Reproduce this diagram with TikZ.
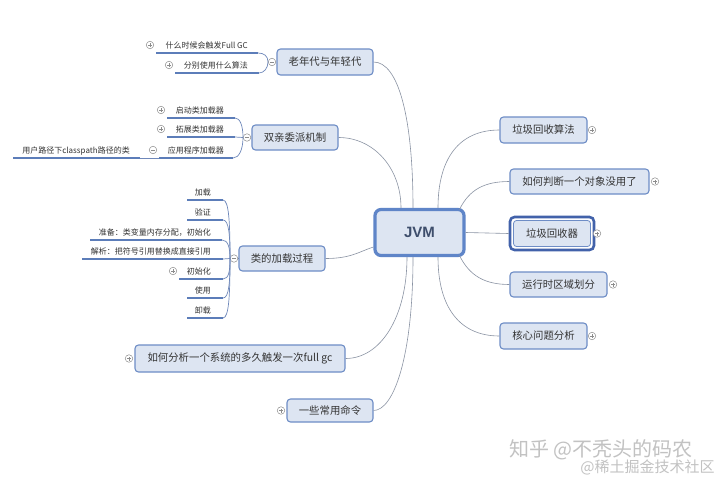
\documentclass[tikz,border=0pt]{standalone}
\usepackage{fontspec}
\setmainfont{Noto Sans CJK SC}
\newfontfamily\jvmfont{Liberation Sans}
\definecolor{boxfill}{HTML}{DDE5F2}
\definecolor{boxline}{HTML}{6E8DC6}
\definecolor{jvmline}{HTML}{5F85C8}
\definecolor{selline}{HTML}{4262AA}
\definecolor{connc}{HTML}{8A93A3}
\definecolor{ulinec}{HTML}{5C7DB9}
\definecolor{brkc}{HTML}{6F88BA}
\definecolor{txtc}{HTML}{333333}
\definecolor{jvmtxt}{HTML}{3E4E6C}
\definecolor{markc}{HTML}{8C8C8C}
\definecolor{wmc}{HTML}{C2C2C2}
\newcommand{\kid}[6]{%
  \node[kidtxt, anchor=base east] (#1) at (#2,#5-4.5) {#6};
  \coordinate (#1l) at (#3,#5);
  \coordinate (#1r) at (#4,#5);
  \draw[uline] (#1l) -- (#1r);}
\begin{document}
\begin{tikzpicture}[x=1pt,y=-1pt,
  branch/.style={draw=boxline, line width=1.1pt, fill=boxfill, rounded corners=3.5pt,
    text=txtc, font=\fontsize{10.4}{12}\selectfont, inner sep=0pt, minimum height=25},
  jvmbox/.style={draw=jvmline, line width=3.2pt, fill=boxfill, rounded corners=6pt,
    text=jvmtxt, font=\jvmfont\bfseries\fontsize{15}{18}\selectfont, inner sep=0pt},
  selbox/.style={draw=selline, line width=2.6pt, fill=white, rounded corners=4.5pt, inner sep=0pt},
  kidtxt/.style={text=txtc, font=\fontsize{8}{10}\selectfont, inner sep=0pt},
  uline/.style={draw=ulinec, line width=1.7pt},
  brk/.style={draw=brkc, line width=0.7pt},
  conn/.style={draw=connc, line width=0.6pt},
  tog/.style={circle, draw=markc, line width=0.5pt, fill=white, minimum size=7.5, inner sep=0pt},
  plusm/.style={tog, path picture={\draw[markc, line width=0.5pt]
      ([xshift=-2pt]path picture bounding box.center) -- ([xshift=2pt]path picture bounding box.center)
      ([yshift=-2pt]path picture bounding box.center) -- ([yshift=2pt]path picture bounding box.center);}},
  minusm/.style={tog, path picture={\draw[markc, line width=0.5pt]
      ([xshift=-2pt]path picture bounding box.center) -- ([xshift=2pt]path picture bounding box.center);}},
  wm/.style={text=wmc, inner sep=0pt}
]
\useasboundingbox[fill=white] (0,0) rectangle (720,479);

% ---------- central node ----------
\node[jvmbox, minimum width=89, minimum height=46] (jvm) at (419.5,232.5) {JVM};

% ---------- left branches ----------
\node[branch, minimum width=96, minimum height=26] (old) at (325,62) {老年代与年轻代};
\node[branch, minimum width=86] (par) at (295,137.5) {双亲委派机制};
\node[branch, minimum width=86] (load) at (282,258.5) {类的加载过程};
\node[branch, minimum width=210, minimum height=27] (fgc) at (240,358.5) {如何分析一个系统的多久触发一次full gc};
\node[branch, minimum width=86, minimum height=23] (cmd) at (330,410.5) {一些常用命令};

% ---------- right branches ----------
\node[branch, minimum width=87, minimum height=26] (alg) at (543.5,130) {垃圾回收算法};
\node[branch, minimum width=139] (dead) at (579.5,181.5) {如何判断一个对象没用了};
\node[selbox, minimum width=84, minimum height=33] (gco) at (552,233.5) {};
\node[branch, line width=0.8pt, rounded corners=3pt, minimum width=77, minimum height=26] (gc) at (552,233.5) {垃圾回收器};
\node[branch, minimum width=97] (rt) at (558.5,284.5) {运行时区域划分};
\node[branch, minimum width=87, minimum height=26] (core) at (543.5,336) {核心问题分析};

% ---------- main connectors ----------
\draw[conn] (old.east) .. controls +(25,0) and +(0,-90) .. ([xshift=-6.5pt]jvm.north);
\draw[conn] (par.east) .. controls +(35,0) and +(0,-40) .. ([xshift=-18.5pt]jvm.north);
\draw[conn] (load.east) .. controls +(25,0) and +(-15,5) .. ([yshift=-14.5pt]jvm.west);
\draw[conn] (fgc.east) .. controls +(35,0) and +(0,60) .. ([xshift=-12.5pt]jvm.south);
\draw[conn] (cmd.east) .. controls +(20,0) and +(0,100) .. ([xshift=-6.5pt]jvm.south);
\draw[conn] ([xshift=18.5pt]jvm.north) .. controls +(0,-50) and +(-40,0) .. (alg.west);
\draw[conn] ([xshift=40pt,yshift=-1.5pt]jvm.north) .. controls +(10,-20) and +(-25,0) .. (dead.west);
\draw[conn] (jvm.east) -- (gco.west);
\draw[conn] ([xshift=40pt,yshift=1.5pt]jvm.south) .. controls +(10,20) and +(-25,0) .. (rt.west);
\draw[conn] ([xshift=18.5pt]jvm.south) .. controls +(0,50) and +(-40,0) .. (core.west);

% ---------- toggles of branches ----------
\node[minusm] (toldm) at (272,62) {};
\node[minusm] (tparm) at (247,137.5) {};
\node[minusm] (tloadm) at (234,258.5) {};
\draw[brk] (load.west) -- (tloadm.east);
\node[plusm] (tfgc) at (129,358.5) {};
\node[plusm] (tcmd) at (281,410.5) {};
\node[plusm] (talg) at (592,130) {};
\node[plusm] (tdead) at (655,181.5) {};
\node[plusm] (tgc) at (597,233.5) {};
\node[plusm] (trt) at (613,284.5) {};
\node[plusm] (tcore) at (592,336) {};

% ---------- children of 老年代与年轻代 ----------
\kid{o1}{248}{156}{258}{53}{什么时候会触发Full GC}
\kid{o2}{248}{175}{259}{73}{分别使用什么算法}
\node[plusm] (to1) at (150,45) {};
\node[plusm] (to2) at (169,65) {};
\draw[brk] (o1r) .. controls +(6,0) and +(0,-6) .. (toldm.west);
\draw[brk] (o2r) .. controls +(5,0) and +(0,6) .. (toldm.west);

% ---------- children of 双亲委派机制 ----------
\kid{p1}{224}{167}{235}{118}{启动类加载器}
\kid{p2}{224}{167}{235}{137}{拓展类加载器}
\kid{p3}{224}{159}{233}{158}{应用程序加载器}
\node[plusm] (tp1) at (161,110) {};
\node[plusm] (tp2) at (161,129) {};
\node[minusm] (tp3) at (153,150) {};
\draw[brk] (p1r) .. controls +(5,0) and +(0,-12) .. (tparm.west);
\draw[brk] (p2r) -- (tparm.west);
\draw[brk] (p3r) .. controls +(6,0) and +(0,12) .. (tparm.west);
\kid{q1}{130}{13}{140}{158}{用户路径下classpath路径的类}
\draw[brk] (q1r) -- (p3l);

% ---------- children of 类的加载过程 ----------
\kid{l1}{211}{187}{223}{200}{加载}
\kid{l2}{211}{187}{223}{220}{验证}
\kid{l3}{211}{90}{222}{240}{准备：类变量内存分配，初始化}
\kid{l4}{211}{82}{223}{259}{解析：把符号引用替换成直接引用}
\kid{l5}{211}{179}{223}{279}{初始化}
\kid{l6}{211}{187}{223}{298}{使用}
\kid{l7}{211}{187}{223}{318}{卸载}
\node[plusm] (tl5) at (173,271) {};
\draw[brk] (l1r) .. controls +(6,0) and +(0,-35) .. (tloadm.west);
\draw[brk] (l2r) .. controls +(6,0) and +(0,-23) .. (tloadm.west);
\draw[brk] (l3r) .. controls +(6,0) and +(0,-11) .. (tloadm.west);
\draw[brk] (l4r) -- (tloadm.west);
\draw[brk] (l5r) .. controls +(6,0) and +(0,12) .. (tloadm.west);
\draw[brk] (l6r) .. controls +(6,0) and +(0,24) .. (tloadm.west);
\draw[brk] (l7r) .. controls +(6,0) and +(0,36) .. (tloadm.west);

% ---------- watermark ----------
\node[wm, font=\fontsize{20}{22}\selectfont] (wm1) at (601,450) {知乎 @不秃头的码农};
\node[wm, font=\fontsize{15}{17}\selectfont] (wm2) at (647.5,467) {@稀土掘金技术社区};
\end{tikzpicture}
\end{document}
